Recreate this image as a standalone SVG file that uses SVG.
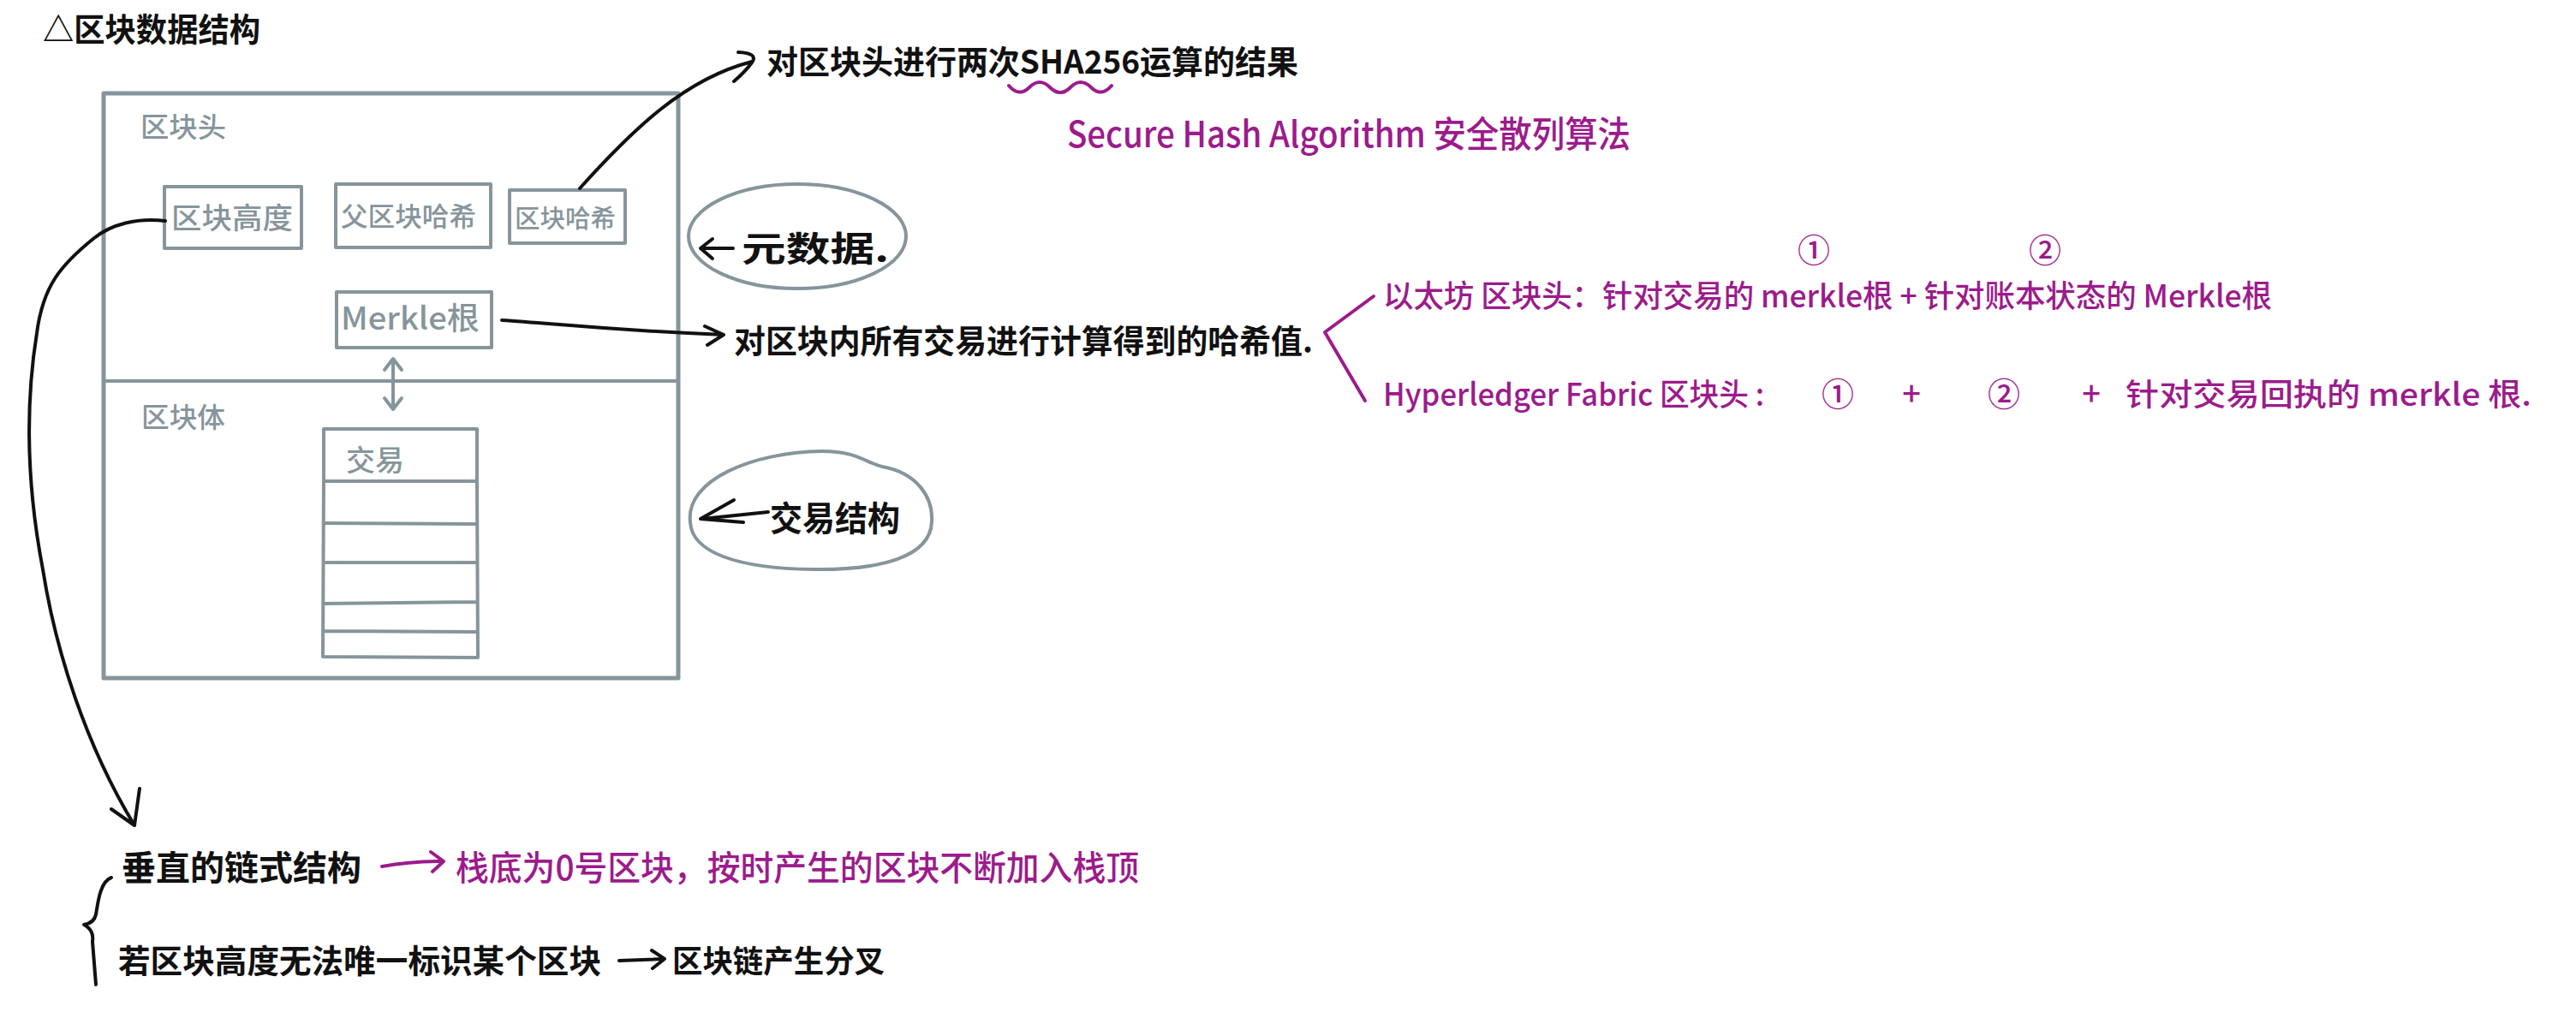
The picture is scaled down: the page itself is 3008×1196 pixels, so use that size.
<svg xmlns="http://www.w3.org/2000/svg" width="3008" height="1196" viewBox="0 0 3008 1196">
<style>
text{font-family:"Noto Sans CJK SC","Noto Sans",sans-serif;font-weight:600;}
.blk{fill:#111;}
.gry{fill:#86959b;font-weight:500;}
.pur{fill:#9c1b8c;font-weight:500;}
.gbox{fill:none;stroke:#86959b;stroke-width:5;stroke-linejoin:round;}
.gln{fill:none;stroke:#86959b;stroke-width:4;stroke-linecap:round;stroke-linejoin:round;}
.bln{fill:none;stroke:#111;stroke-width:4;stroke-linecap:round;stroke-linejoin:round;}
.pln{fill:none;stroke:#9c1b8c;stroke-width:4;stroke-linecap:round;stroke-linejoin:round;}
</style>
<rect width="3008" height="1196" fill="#fff"/>

<g id="title">
<text class="blk" x="50" y="48" font-size="38" textLength="254" lengthAdjust="spacingAndGlyphs">△区块数据结构</text>
</g>

<g id="block">
<rect class="gbox" x="121" y="109" width="671" height="683"/>
<line class="gln" x1="121" y1="445" x2="792" y2="445" stroke-width="5"/>
<text class="gry" x="164" y="160" font-size="32" textLength="100" lengthAdjust="spacingAndGlyphs">区块头</text>
<text class="gry" x="165" y="499" font-size="32" textLength="98" lengthAdjust="spacingAndGlyphs">区块体</text>
</g>

<g id="node-height">
<rect class="gln" x="192" y="218" width="160" height="72"/>
<text class="gry" x="200" y="267" font-size="34" textLength="142" lengthAdjust="spacingAndGlyphs">区块高度</text>
</g>
<g id="node-parent-hash">
<rect class="gln" x="392" y="215" width="181" height="74"/>
<text class="gry" x="398" y="264" font-size="31" textLength="158" lengthAdjust="spacingAndGlyphs">父区块哈希</text>
</g>
<g id="node-block-hash">
<rect class="gln" x="595" y="222" width="135" height="62"/>
<text class="gry" x="601" y="266" font-size="29" textLength="118" lengthAdjust="spacingAndGlyphs">区块哈希</text>
</g>
<g id="node-merkle">
<rect class="gln" x="393" y="341" width="181" height="65"/>
<text class="gry" x="398" y="385" font-size="36" textLength="162" lengthAdjust="spacingAndGlyphs">Merkle根</text>
</g>
<g id="node-tx">
<path class="gln" d="M378,501 L557,501 L557,562 L378,562 Z M378,562 L377,767 L558,768 L557,562 M380,611 L557,612 M378,657 L557,657 M378,705 L557,703 M378,737 L557,738"/>
<text class="gry" x="404" y="550" font-size="34" textLength="68" lengthAdjust="spacingAndGlyphs">交易</text>
</g>

<g id="note-meta">
<ellipse class="gln" cx="931" cy="276" rx="127" ry="61"/>
<path class="bln" d="M856,290 L819,290 M832,279 L818,290 L832,302"/>
<text class="blk" x="866" y="305" font-size="40" textLength="172" lengthAdjust="spacingAndGlyphs">元数据.</text>
</g>

<g id="note-tx">
<path class="gln" d="M806,610 C800,560 880,528 960,527 C1000,527 1010,540 1030,545 C1070,552 1090,580 1088,610 C1086,650 1030,666 950,665 C860,664 808,645 806,610 Z"/>
<path class="bln" d="M897,598 L820,606 M857,584 L818,606 L868,610"/>
<text class="blk" x="899" y="620" font-size="40" textLength="152" lengthAdjust="spacingAndGlyphs">交易结构</text>
</g>

<g id="note-sha">
<text class="blk" x="895" y="86" font-size="38" textLength="621" lengthAdjust="spacingAndGlyphs">对区块头进行两次SHA256运算的结果</text>
<path class="pln" d="M1178,100 Q1190,114 1202,102 T1226,102 T1250,102 T1274,102 T1298,100"/>
<text class="pur" x="1246" y="172" font-size="42" textLength="658" lengthAdjust="spacingAndGlyphs">Secure Hash Algorithm 安全散列算法</text>
</g>

<g id="note-merkle">
<text class="blk" x="857" y="412" font-size="38" textLength="676" lengthAdjust="spacingAndGlyphs">对区块内所有交易进行计算得到的哈希值.</text>
</g>

<g id="note-chains">
<path class="pln" d="M1604,346 L1547,388 L1594,468"/>
<text class="pur" x="2118" y="306" font-size="38" text-anchor="middle">①</text>
<text class="pur" x="2388" y="306" font-size="38" text-anchor="middle">②</text>
<text class="pur" x="1615" y="359" font-size="36" textLength="1038" lengthAdjust="spacingAndGlyphs">以太坊 区块头：针对交易的 merkle根 + 针对账本状态的 Merkle根</text>
<text class="pur" x="1615" y="474" font-size="36" textLength="445" lengthAdjust="spacingAndGlyphs">Hyperledger Fabric 区块头 :</text>
<text class="pur" x="2146" y="474" font-size="38" text-anchor="middle">①</text>
<text class="pur" x="2232" y="474" font-size="38" text-anchor="middle">+</text>
<text class="pur" x="2340" y="474" font-size="38" text-anchor="middle">②</text>
<text class="pur" x="2442" y="474" font-size="38" text-anchor="middle">+</text>
<text class="pur" x="2482" y="474" font-size="36" textLength="474" lengthAdjust="spacingAndGlyphs">针对交易回执的 merkle 根.</text>
</g>

<g id="note-chain-structure">
<text class="blk" x="142" y="1028" font-size="40" textLength="280" lengthAdjust="spacingAndGlyphs">垂直的链式结构</text>
<path class="pln" d="M446,1012 Q480,1006 517,1006 M503,995 L518,1006 L505,1018"/>
<text class="pur" x="532" y="1028" font-size="40" textLength="798" lengthAdjust="spacingAndGlyphs">栈底为0号区块，按时产生的区块不断加入栈顶</text>
<path class="bln" d="M130,1025 C116,1030 114,1058 112,1068 Q110,1078 98,1080 Q110,1086 108,1100 L112,1150"/>
<text class="blk" x="138" y="1136" font-size="38" textLength="564" lengthAdjust="spacingAndGlyphs">若区块高度无法唯一标识某个区块</text>
<path class="bln" d="M723,1122 L775,1120 M761,1110 L776,1120 L762,1131"/>
<text class="blk" x="785" y="1136" font-size="36" textLength="248" lengthAdjust="spacingAndGlyphs">区块链产生分叉</text>
</g>

<g id="connectors">
<path class="bln" d="M677,220 C740,150 800,92 878,72 M862,61 Q886,62 878,73 Q870,84 857,95"/>
<path class="bln" d="M586,374 C650,378 700,385 845,391 M823,381 L845,391 L826,403"/>
<path class="bln" d="M193,258 C160,254 130,262 110,278 C70,310 50,335 43,389 C30,470 30,560 50,665 C65,760 100,870 157,964 M130,945 L157,964 L163,921"/>
<path class="gln" d="M459,420 L459,477 M449,432 L459,419 L469,432 M449,465 L459,478 L469,465"/>
</g>
</svg>
